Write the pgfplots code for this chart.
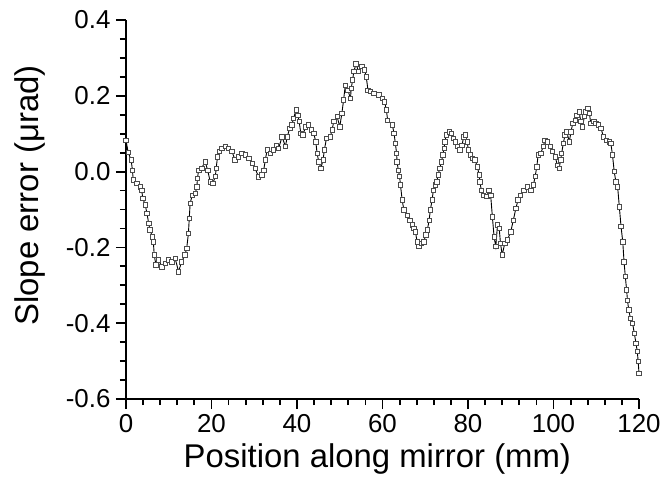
\documentclass[border=0pt]{standalone}
\usepackage{fontspec}
\setmainfont{Liberation Sans}
\usepackage{pgfplots}
\pgfplotsset{compat=1.18}

\begin{document}
\begin{tikzpicture}
\begin{axis}[
  name=ax,
  scale only axis, width=513bp, height=379bp,
  xmin=0, xmax=120, ymin=-0.6, ymax=0.4,
  axis x line*=bottom, axis y line*=left,
  every outer x axis line/.append style={line width=2.4bp, -, black},
  every outer y axis line/.append style={line width=2.4bp, -, black},
  xtick={0,20,...,120}, ytick={-0.6,-0.4,-0.2,0,0.2,0.4},
  minor x tick num=4, minor y tick num=3,
  tick align=outside,
  major tick length=10bp, minor tick length=6bp,
  major tick style={line width=1.8bp, black},
  minor tick style={line width=1.8bp, black},
  /pgf/number format/assume math mode=true,
  tick label style={font=\fontsize{26}{26}\selectfont},
  yticklabel style={xshift=-2bp, /pgf/number format/.cd, fixed, fixed zerofill, precision=1},
  xticklabel style={yshift=-2bp},
  xlabel={Position along mirror (mm)},
  ylabel={Slope error (μrad)},
  every axis x label/.style={at={(axis description cs:0.490,-0.180)}, anchor=base,
    font=\fontsize{33}{33}\selectfont},
  every axis y label/.style={at={(axis description cs:-0.1715,0.537)}, rotate=90, anchor=base,
    font=\fontsize{33}{33}\selectfont},
  clip=false,
]
\addplot[black, line width=0.9bp, mark=square*, mark size=2.2bp,
  mark options={fill=white, draw=black!70, line width=0.7bp, solid}]
  table[row sep=\\] {
x y \\
0.0 0.083 \\ 0.5 0.051 \\ 1.2 0.031 \\ 1.5 0.004 \\ 1.7 -0.022 \\ 2.5 -0.031 \\
3.3 -0.040 \\ 3.7 -0.049 \\ 3.9 -0.070 \\ 4.5 -0.088 \\ 4.9 -0.110 \\ 5.3 -0.136 \\
5.6 -0.154 \\ 6.2 -0.172 \\ 6.4 -0.185 \\ 6.6 -0.220 \\ 7.0 -0.246 \\ 7.6 -0.233 \\
8.4 -0.251 \\ 9.2 -0.242 \\ 9.9 -0.233 \\ 10.7 -0.238 \\ 11.5 -0.229 \\ 12.3 -0.264 \\
13.0 -0.238 \\ 13.8 -0.220 \\ 14.2 -0.202 \\ 14.6 -0.163 \\ 14.8 -0.123 \\ 15.0 -0.084 \\
15.5 -0.062 \\ 16.2 -0.057 \\ 16.6 -0.040 \\ 16.7 -0.018 \\ 17.0 0.004 \\ 17.7 0.009 \\
18.5 0.026 \\ 19.1 0.004 \\ 19.7 -0.027 \\ 20.3 -0.031 \\ 20.9 -0.013 \\ 21.1 0.009 \\
21.4 0.039 \\ 21.9 0.053 \\ 22.4 0.061 \\ 23.2 0.066 \\ 24.0 0.061 \\ 24.8 0.053 \\
25.5 0.031 \\ 26.3 0.039 \\ 27.1 0.048 \\ 27.9 0.044 \\ 28.7 0.035 \\ 29.5 0.022 \\
30.2 0.009 \\ 31.0 -0.014 \\ 31.8 -0.009 \\ 32.2 0.004 \\ 32.6 0.031 \\ 33.0 0.057 \\
33.7 0.048 \\ 34.5 0.057 \\ 35.2 0.070 \\ 35.7 0.061 \\ 36.5 0.092 \\ 37.3 0.066 \\
37.7 0.092 \\ 38.3 0.114 \\ 38.8 0.123 \\ 39.2 0.141 \\ 39.8 0.163 \\ 40.2 0.149 \\
40.5 0.132 \\ 40.9 0.101 \\ 41.4 0.097 \\ 42.0 0.118 \\ 42.7 0.123 \\ 43.3 0.110 \\
43.9 0.101 \\ 44.4 0.079 \\ 44.7 0.048 \\ 45.1 0.026 \\ 45.6 0.009 \\ 46.1 0.031 \\
46.4 0.057 \\ 46.9 0.088 \\ 47.8 0.092 \\ 48.2 0.110 \\ 48.6 0.132 \\ 49.4 0.145 \\
50.0 0.118 \\ 50.5 0.154 \\ 50.9 0.189 \\ 51.3 0.228 \\ 51.9 0.215 \\ 52.5 0.193 \\
52.7 0.220 \\ 53.0 0.242 \\ 53.3 0.264 \\ 53.8 0.284 \\ 54.4 0.264 \\ 55.2 0.277 \\
55.8 0.268 \\ 56.2 0.250 \\ 56.6 0.215 \\ 57.2 0.211 \\ 58.0 0.207 \\ 59.1 0.202 \\
59.9 0.193 \\ 60.5 0.184 \\ 60.9 0.163 \\ 61.2 0.136 \\ 62.3 0.123 \\ 62.7 0.101 \\
63.0 0.075 \\ 63.3 0.048 \\ 63.4 0.026 \\ 63.7 0.004 \\ 64.0 -0.013 \\ 64.2 -0.035 \\
64.6 -0.075 \\ 65.0 -0.101 \\ 65.8 -0.115 \\ 66.4 -0.128 \\ 67.0 -0.141 \\ 67.3 -0.150 \\
67.7 -0.159 \\ 68.1 -0.185 \\ 68.5 -0.198 \\ 69.1 -0.189 \\ 69.7 -0.185 \\ 70.1 -0.167 \\
70.5 -0.154 \\ 70.9 -0.128 \\ 71.2 -0.101 \\ 71.6 -0.075 \\ 71.9 -0.049 \\ 72.3 -0.035 \\
72.7 -0.027 \\ 73.0 -0.009 \\ 73.4 0.009 \\ 73.8 0.026 \\ 74.1 0.044 \\ 74.4 0.061 \\
74.6 0.079 \\ 74.9 0.097 \\ 75.6 0.105 \\ 76.1 0.101 \\ 76.6 0.088 \\ 77.1 0.079 \\
77.6 0.066 \\ 78.1 0.057 \\ 78.6 0.070 \\ 79.0 0.092 \\ 79.4 0.097 \\ 79.8 0.079 \\
80.1 0.057 \\ 80.5 0.044 \\ 81.0 0.035 \\ 81.6 0.031 \\ 82.2 0.013 \\ 82.6 -0.009 \\
82.8 -0.027 \\ 83.1 -0.049 \\ 83.6 -0.062 \\ 84.4 -0.066 \\ 84.9 -0.049 \\ 85.3 -0.062 \\
85.7 -0.119 \\ 86.1 -0.172 \\ 86.5 -0.198 \\ 86.9 -0.141 \\ 87.3 -0.150 \\ 87.6 -0.189 \\
88.0 -0.220 \\ 88.6 -0.189 \\ 89.2 -0.180 \\ 90.0 -0.159 \\ 90.6 -0.128 \\ 91.2 -0.097 \\
91.7 -0.075 \\ 92.3 -0.062 \\ 93.1 -0.049 \\ 93.9 -0.040 \\ 94.7 -0.049 \\ 95.3 -0.035 \\
95.7 -0.013 \\ 96.1 0.013 \\ 96.4 0.044 \\ 97.0 0.048 \\ 97.6 0.066 \\ 98.0 0.083 \\
98.6 0.079 \\ 99.2 0.066 \\ 99.8 0.053 \\ 100.4 0.039 \\ 100.9 0.017 \\ 101.3 0.009 \\
101.7 0.031 \\ 101.9 0.048 \\ 102.3 0.075 \\ 102.7 0.097 \\ 103.1 0.105 \\ 103.7 0.079 \\
104.1 0.105 \\ 104.5 0.128 \\ 105.1 0.136 \\ 105.5 0.149 \\ 106.0 0.158 \\ 106.4 0.132 \\
106.8 0.118 \\ 107.2 0.145 \\ 107.6 0.158 \\ 108.0 0.167 \\ 108.4 0.154 \\ 108.7 0.128 \\
109.4 0.132 \\ 109.9 0.128 \\ 110.5 0.123 \\ 111.1 0.114 \\ 111.7 0.092 \\ 112.3 0.083 \\
113.0 0.079 \\ 113.4 0.075 \\ 113.8 0.044 \\ 114.2 0.000 \\ 114.6 -0.027 \\ 115.0 -0.040 \\
115.4 -0.093 \\ 115.8 -0.145 \\ 116.2 -0.185 \\ 116.5 -0.238 \\ 116.8 -0.277 \\ 117.1 -0.312 \\
117.3 -0.339 \\ 117.6 -0.365 \\ 118.0 -0.387 \\ 118.5 -0.400 \\ 118.9 -0.427 \\ 119.3 -0.453 \\
119.6 -0.475 \\ 119.8 -0.500 \\ 120.0 -0.532 \\
};
\end{axis}
\pgfresetboundingbox
\path[use as bounding box] (ax.south west) ++(-126bp,-86bp) rectangle ++(662bp,485bp);
\end{tikzpicture}
\end{document}
